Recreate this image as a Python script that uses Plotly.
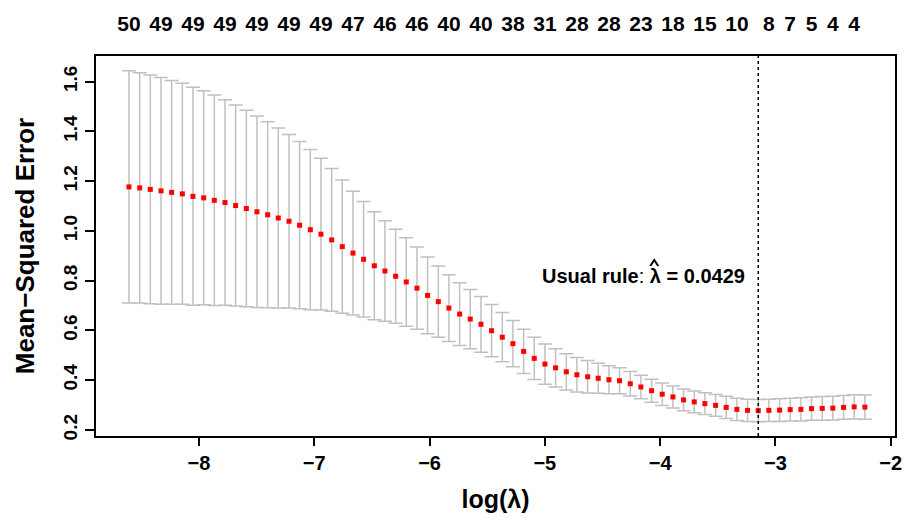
import plotly.graph_objects as go

# log(lambda) grid (one value per fitted lambda)
log_lambda = [-8.607, -8.514, -8.422, -8.329, -8.237, -8.144, -8.052, -7.959, -7.867, -7.774,
              -7.682, -7.589, -7.497, -7.404, -7.312, -7.219, -7.127, -7.034, -6.942, -6.849,
              -6.757, -6.664, -6.572, -6.479, -6.387, -6.294, -6.202, -6.109, -6.017, -5.924,
              -5.832, -5.739, -5.647, -5.554, -5.462, -5.369, -5.277, -5.184, -5.092, -4.999,
              -4.907, -4.814, -4.722, -4.629, -4.537, -4.444, -4.352, -4.259, -4.167, -4.074,
              -3.982, -3.889, -3.797, -3.704, -3.612, -3.519, -3.427, -3.334, -3.242, -3.149,
              -3.057, -2.964, -2.872, -2.779, -2.687, -2.594, -2.502, -2.409, -2.317, -2.224]

# mean cross-validated error
cvm = [1.177, 1.173, 1.167, 1.161, 1.155, 1.149, 1.139, 1.133, 1.123, 1.114,
       1.102, 1.090, 1.077, 1.065, 1.052, 1.039, 1.023, 1.005, 0.987, 0.964,
       0.937, 0.911, 0.886, 0.860, 0.839, 0.818, 0.795, 0.770, 0.741, 0.716,
       0.690, 0.666, 0.646, 0.625, 0.599, 0.573, 0.547, 0.516, 0.488, 0.465,
       0.450, 0.434, 0.422, 0.414, 0.408, 0.402, 0.398, 0.386, 0.373, 0.358,
       0.344, 0.333, 0.321, 0.313, 0.306, 0.299, 0.291, 0.283, 0.279, 0.278,
       0.279, 0.280, 0.282, 0.283, 0.286, 0.287, 0.288, 0.291, 0.293, 0.292]

# standard error of the CV error
cvsd = [0.467, 0.463, 0.460, 0.456, 0.450, 0.444, 0.438, 0.430, 0.423, 0.413,
        0.404, 0.395, 0.385, 0.374, 0.362, 0.349, 0.336, 0.322, 0.305, 0.287,
        0.268, 0.249, 0.232, 0.217, 0.202, 0.189, 0.178, 0.165, 0.154, 0.143,
        0.134, 0.126, 0.119, 0.112, 0.105, 0.099, 0.093, 0.089, 0.085, 0.081,
        0.077, 0.073, 0.069, 0.065, 0.060, 0.056, 0.052, 0.049, 0.047, 0.046,
        0.045, 0.044, 0.044, 0.044, 0.044, 0.044, 0.045, 0.045, 0.045, 0.045,
        0.045, 0.046, 0.046, 0.047, 0.047, 0.048, 0.048, 0.048, 0.049, 0.049]

# number of non-zero coefficients shown on the top axis (index into log_lambda)
nz_index = [0, 3, 6, 9, 12, 15, 18, 21, 24, 27, 30, 33, 36, 39, 42, 45, 48, 51, 54, 57, 60,
            62, 64, 66, 68]
nz_labels = ["50", "49", "49", "49", "49", "49", "49", "47", "46", "46", "40", "40", "38",
             "31", "28", "28", "23", "18", "15", "10", "8", "7", "5", "4", "4"]

lambda_min = 0.0429
log_lambda_min = -3.149

x_ticks = [-8, -7, -6, -5, -4, -3, -2]
y_ticks = [0.2, 0.4, 0.6, 0.8, 1.0, 1.2, 1.4, 1.6]

FONT = "Liberation Sans, Arial, sans-serif"

nz_x = [log_lambda[i] for i in nz_index]

fig = go.Figure()
fig.add_trace(go.Scatter(
    x=log_lambda, y=cvm, mode="markers",
    marker=dict(symbol="square", size=5, color="#ff0000"),
    error_y=dict(type="data", array=cvsd, symmetric=True,
                 color="#c0c0c0", thickness=1.5, width=7),
    showlegend=False, hoverinfo="x+y"))
fig.add_trace(go.Scatter(
    x=nz_x, y=[cvm[i] for i in nz_index], xaxis="x2", mode="markers",
    marker=dict(opacity=0), showlegend=False, hoverinfo="skip"))

fig.add_shape(type="line", xref="x", yref="paper",
              x0=log_lambda_min, x1=log_lambda_min, y0=0, y1=1,
              line=dict(color="black", width=1.5, dash="dot"))

ann_y = 0.819
fig.add_annotation(x=log_lambda_min, y=ann_y, xref="x", yref="y",
                   xanchor="right", yanchor="middle", xshift=-11, showarrow=False,
                   text="<b>Usual rule</b>: <b>\u03bb = %.4f</b>" % lambda_min,
                   font=dict(family=FONT, size=20, color="black"))
# hat over lambda, drawn as a small chevron anchored to the annotation position
fig.add_shape(type="path", xref="x", yref="y",
              xsizemode="pixel", ysizemode="pixel",
              xanchor=log_lambda_min, yanchor=ann_y,
              path="M -108,10 L -104,16 L -100,10",
              line=dict(color="black", width=2))

xr = [-8.893, -1.963]
fig.update_layout(
    width=903, height=510,
    margin=dict(l=88, r=16, t=48, b=82),
    paper_bgcolor="white", plot_bgcolor="white",
    font=dict(family=FONT, color="black"),
    xaxis=dict(range=xr, tickvals=x_ticks, ticks="outside", ticklen=8, tickwidth=2,
               tickcolor="black", showline=True, linewidth=2, linecolor="black",
               mirror=True, showgrid=False, zeroline=False, automargin=False,
               tickfont=dict(family=FONT, size=20, weight="bold"),
               title=dict(text="log(\u03bb)", standoff=17,
                          font=dict(family=FONT, size=25, weight="bold"))),
    xaxis2=dict(range=xr, overlaying="x", side="top", tickvals=nz_x, ticktext=nz_labels,
                ticks="", showline=False, showgrid=False, zeroline=False, automargin=False,
                ticklabelstandoff=20,
                tickfont=dict(family=FONT, size=21, weight="bold")),
    yaxis=dict(range=[0.176, 1.703], tickvals=y_ticks, tickformat=".1f", tickangle=-90,
               ticks="outside", ticklen=9, tickwidth=2, tickcolor="black",
               showline=True, linewidth=2, linecolor="black", mirror=True,
               showgrid=False, zeroline=False, automargin=False,
               tickfont=dict(family=FONT, size=19, weight="bold"),
               title=dict(text="Mean\u2212Squared Error", standoff=18,
                          font=dict(family=FONT, size=26, weight="bold"))),
)

fig.write_html("out.html")
